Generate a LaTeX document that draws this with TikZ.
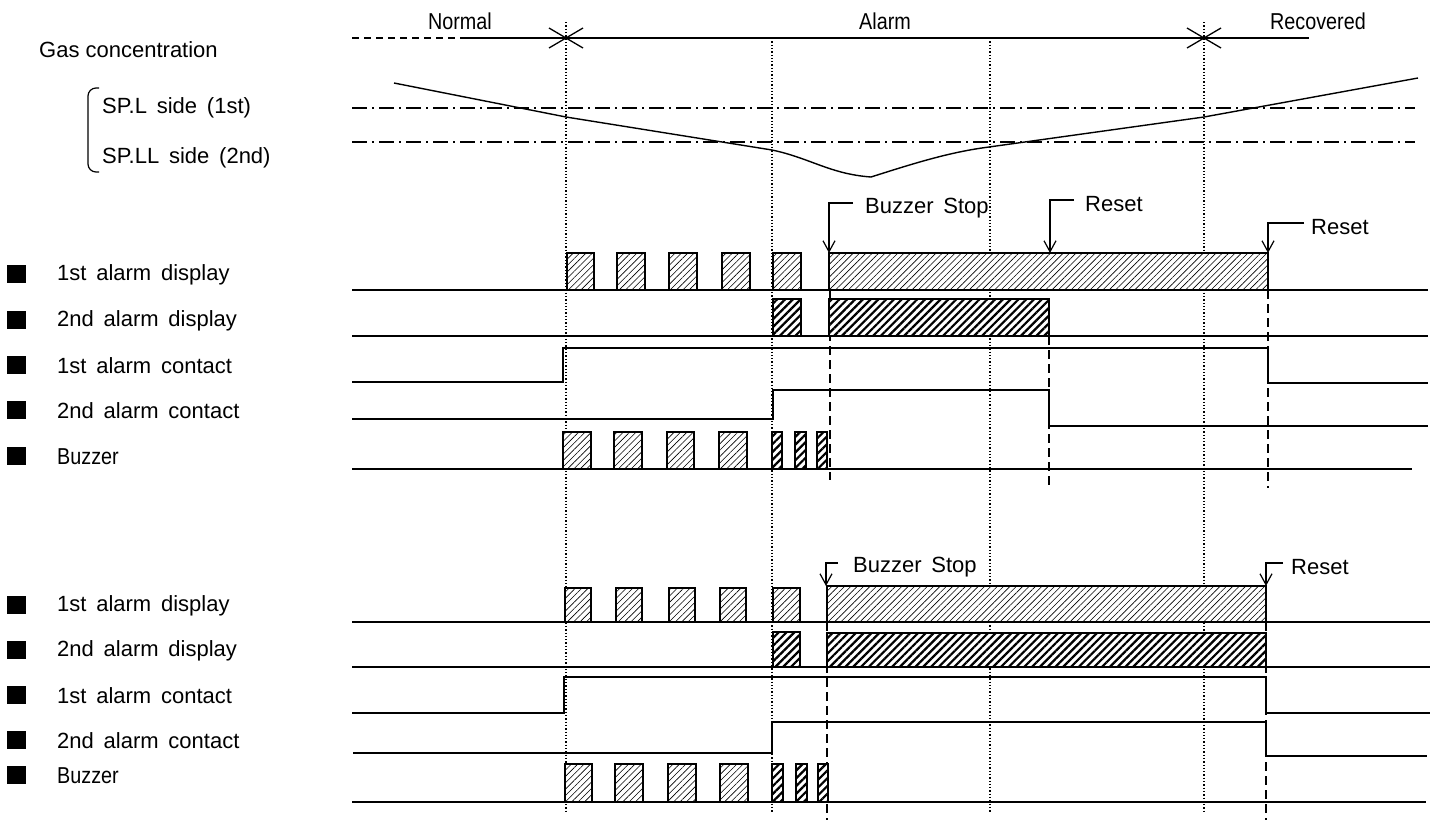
\documentclass[tikz,border=0pt]{standalone}
\usepackage{fontspec}
\setmainfont{Liberation Sans}
\newfontfamily\gothic[WordSpace=1.6]{Liberation Sans}
\newfontfamily\narrowf[FakeStretch=0.86]{Liberation Sans}
\usetikzlibrary{patterns.meta,arrows.meta}
\tikzset{
  sig/.style={line width=1.4pt},
  vdot/.style={line width=1.3pt, dash pattern=on 1.3pt off 2pt},
  vdash/.style={line width=1.1pt, dash pattern=on 9pt off 5pt},
  dashdot/.style={line width=1.2pt, dash pattern=on 15pt off 5pt on 2pt off 5pt},
  hdrdash/.style={line width=1.3pt, dash pattern=on 7pt off 5pt},
  lite/.style={draw, line width=1.3pt, preaction={fill=white},
    pattern={Lines[angle=45,distance=4.5pt,line width=0.6pt]}},
  dense/.style={draw, line width=1.3pt, preaction={fill=white},
    pattern={Lines[angle=45,distance=5.5pt,line width=2.2pt]}},
  lbl/.style={anchor=west, inner sep=0pt, font=\gothic\fontsize{22}{22}\selectfont},
  hdr/.style={inner sep=0pt, font=\narrowf\fontsize{23}{23}\selectfont},
  sq/.style={fill=black, minimum width=19pt, minimum height=18pt, inner sep=0pt},
  evt/.style={line width=1.2pt, -{Straight Barb[length=11pt,width=12pt,line width=1.2pt]}},
}
\begin{document}
\begin{tikzpicture}[x=1pt,y=-1pt]
\useasboundingbox (0,0) rectangle (1430,820);

% ---------- header ----------
\node[hdr] (tNormal) at (460,21) {Normal};
\node[hdr] (tAlarm) at (885,21) {Alarm};
\node[hdr] (tRecov) at (1318,21) {Recovered};
\draw[hdrdash] (352,38) -- (462,38);
\draw[sig] (462,38) -- (1309,38);
\draw[line width=1.3pt] (549,28) -- (583,48) (549,48) -- (583,28);
\draw[line width=1.3pt] (1187,28) -- (1221,48) (1187,48) -- (1221,28);

% ---------- vertical guide lines ----------
\draw[vdot] (566,22) -- (566,812);
\draw[vdot] (772,38) -- (772,812);
\draw[vdot] (990,38) -- (990,812);
\draw[vdot] (1204,22) -- (1204,812);

% ---------- gas concentration ----------
\node[anchor=west, inner sep=0pt, font=\fontsize{22}{22}\selectfont] (tGas) at (39,50) {Gas concentration};
\node[lbl] (tSPL) at (102,108) {SP.L side (1st)};
\node[lbl] (tSPLL) at (102,158) {SP.LL side (2nd)};
\draw[line width=1.2pt, rounded corners=8pt] (99,88) -- (88,88) -- (88,172) -- (99,172);
\draw[dashdot] (352,108) -- (1415,108);
\draw[dashdot] (352,142) -- (1415,142);
\draw[line width=1.4pt] (394,83) -- (566,117) -- (772,150)
   .. controls (810,158) and (830,174) .. (871,177)
   .. controls (915,163) and (950,152) .. (989,147)
   -- (1204,117) -- (1418,78);

% ---------- section 1 labels ----------
\foreach \y/\t [count=\i] in {274/1st alarm display, 320/2nd alarm display, 365/1st alarm contact, 410/2nd alarm contact} {
  \node[sq] (sqA\i) at (16.5,\y) {};
  \node[lbl] (lbA\i) at (57,\y+1) {\t};
}
\node[sq] (sqA5) at (16.5,456) {};
\node[anchor=west, inner sep=0pt, font=\narrowf\fontsize{23}{23}\selectfont] (lbA5) at (57,457) {Buzzer};

% ---------- section 1 signals ----------
\draw[vdash] (830,290) -- (830,480);
\draw[vdash] (1049,336) -- (1049,488);
\draw[vdash] (1268,290) -- (1268,488);

\draw[sig] (352,290) -- (1428,290);
\foreach \a/\b in {567/594,617/645,669/697,722/750,773/801} \draw[lite] (\a,253) rectangle (\b,290);
\draw[lite] (829,253) rectangle (1268,290);

\draw[sig] (352,336) -- (1428,336);
\draw[dense] (773,299) rectangle (801,336);
\draw[dense] (829,299) rectangle (1049,336);

\draw[sig] (352,382) -- (563,382) -- (563,348) -- (1268,348) -- (1268,383) -- (1428,383);
\draw[sig] (352,419) -- (773,419) -- (773,390) -- (1049,390) -- (1049,426) -- (1428,426);

\draw[sig] (352,469) -- (1412,469);
\foreach \a/\b in {563/591,614/642,667/694,719/747} \draw[lite] (\a,432) rectangle (\b,469);
\foreach \a/\b in {772/782,795/806,817/827} \draw[dense] (\a,432) rectangle (\b,469);

% events section 1
\coordinate (bsA0) at (853,203); \coordinate (bsA1) at (829,203); \coordinate (bsA2) at (829,253);
\draw[evt] (bsA0) -- (bsA1) -- (bsA2);
\node[lbl] (tBSA) at (865,208) {Buzzer Stop};
\coordinate (rsA0) at (1074,200); \coordinate (rsA1) at (1050,200); \coordinate (rsA2) at (1050,253);
\draw[evt] (rsA0) -- (rsA1) -- (rsA2);
\node[lbl] (tRSA) at (1085,204) {Reset};
\coordinate (rsB0) at (1304,223); \coordinate (rsB1) at (1268,223); \coordinate (rsB2) at (1268,253);
\draw[evt] (rsB0) -- (rsB1) -- (rsB2);
\node[lbl] (tRSB) at (1311,227) {Reset};

% ---------- section 2 labels ----------
\foreach \y/\t [count=\i] in {605/1st alarm display, 650/2nd alarm display, 695/1st alarm contact, 740/2nd alarm contact} {
  \node[sq] (sqB\i) at (16.5,\y) {};
  \node[lbl] (lbB\i) at (57,\y+1) {\t};
}
\node[sq] (sqB5) at (16.5,775) {};
\node[anchor=west, inner sep=0pt, font=\narrowf\fontsize{23}{23}\selectfont] (lbB5) at (57,776) {Buzzer};

% ---------- section 2 signals ----------
\draw[vdash] (827,622) -- (827,820);
\draw[vdash] (1266,622) -- (1266,820);

\draw[sig] (352,622) -- (1430,622);
\foreach \a/\b in {565/591,616/642,669/695,720/746,773/800} \draw[lite] (\a,588) rectangle (\b,622);
\draw[lite] (827,586) rectangle (1266,622);

\draw[sig] (352,667) -- (1430,667);
\draw[dense] (773,632) rectangle (800,667);
\draw[dense] (827,633) rectangle (1266,667);

\draw[sig] (352,713) -- (564,713) -- (564,677) -- (1266,677) -- (1266,713) -- (1430,713);
\draw[sig] (353,753) -- (772,753) -- (772,722) -- (1266,722) -- (1266,756) -- (1427,756);

\draw[sig] (352,802) -- (1426,802);
\foreach \a/\b in {565/592,615/643,668/696,720/748} \draw[lite] (\a,764) rectangle (\b,802);
\foreach \a/\b in {772/783,796/807,818/828} \draw[dense] (\a,764) rectangle (\b,802);

% events section 2
\coordinate (bsB0) at (838,563); \coordinate (bsB1) at (826,563); \coordinate (bsB2) at (826,586);
\draw[evt] (bsB0) -- (bsB1) -- (bsB2);
\node[lbl] (tBSB) at (853,567) {Buzzer Stop};
\coordinate (rsC0) at (1283,563); \coordinate (rsC1) at (1266,563); \coordinate (rsC2) at (1266,586);
\draw[evt] (rsC0) -- (rsC1) -- (rsC2);
\node[lbl] (tRSC) at (1291,567) {Reset};
\end{tikzpicture}
\end{document}
